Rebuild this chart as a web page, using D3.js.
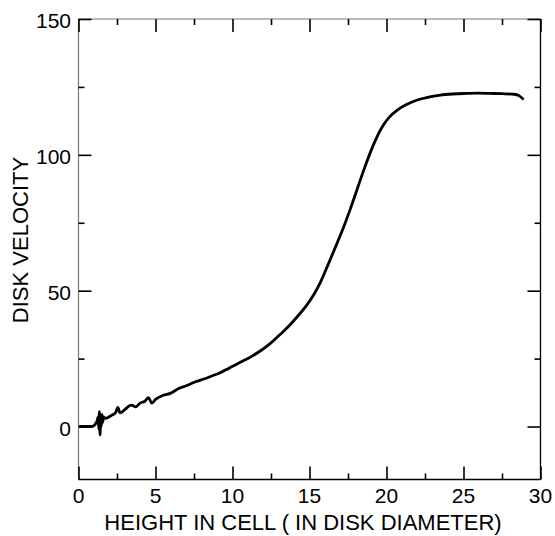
<!DOCTYPE html>
<html>
<head>
<meta charset="utf-8">
<script src="https://cdn.jsdelivr.net/npm/d3@7"></script>
<style>
  html, body { margin: 0; padding: 0; background: #fff; }
  text { font-family: "Liberation Sans", Arial, Helvetica, sans-serif; fill: #000; }
</style>
</head>
<body>
<svg id="chart" width="555" height="536"></svg>
<script>
// Data
const heights = [0.0, 0.87, 1.19, 1.28, 1.32, 1.36, 1.40, 1.44, 1.48, 1.52, 1.57, 1.62, 1.73,
  2.17, 2.4, 2.55, 2.7, 3.0, 3.3, 3.46, 3.7, 4.0, 4.3, 4.55, 4.76, 5.0, 5.5, 6.0, 6.5, 7.0,
  7.6, 8.2, 8.66, 9.2, 9.74, 10.3, 10.8, 11.3, 11.8, 12.5, 13.0, 13.6, 14.2, 14.8, 15.3,
  15.7, 16.2, 16.8, 17.2, 17.66, 18.0, 18.5, 18.96, 19.2, 19.5, 19.8, 20.2, 20.7, 21.3,
  22.0, 22.8, 23.5, 24.3, 25.2, 26.0, 26.75, 27.5, 28.3, 28.6, 28.9];
const velocities = [0.0, 0.0, 1.8, 3.5, -1.0, 5.5, -3.1, 4.0, 0.0, 4.5, 1.5, 3.5, 3.0,
  4.2, 5.0, 7.0, 5.0, 6.2, 7.6, 7.9, 7.2, 8.6, 9.3, 10.6, 8.6, 10.0, 11.5, 12.3, 14.0, 15.0,
  16.5, 17.6, 18.6, 19.8, 21.4, 23.0, 24.5, 26.0, 27.8, 30.8, 33.4, 36.6, 40.4, 44.5, 48.8,
  53.0, 59.5, 67.6, 73.2, 80.2, 85.8, 94.0, 101.0, 104.3, 108.0, 111.0, 114.0, 116.5, 118.5,
  120.2, 121.3, 122.0, 122.4, 122.6, 122.7, 122.6, 122.5, 122.3, 121.8, 120.4];
const xTickValues = [0, 5, 10, 15, 20, 25, 30];
const xMinorTicks = [2.5, 7.5, 12.5, 17.5, 22.5, 27.5];
const yTickValues = [0, 50, 100, 150];
const yMinorTicks = [25, 75, 125];
const xLabel = "HEIGHT IN CELL ( IN DISK DIAMETER)";
const yLabel = "DISK VELOCITY";

const svg = d3.select("#chart");
const L = 78.5, R = 540.5, T = 19, B = 479.5;
const x = d3.scaleLinear().domain([0, 30]).range([L, R]);
const y = d3.scaleLinear().domain([-19.5, 150]).range([B, T]);

// Curve
const pts = heights.map((h, i) => [h, velocities[i]]);
const line = d3.line().x(d => x(d[0])).y(d => y(d[1])).curve(d3.curveMonotoneX);
svg.append("path").datum(pts)
  .attr("d", line)
  .attr("fill", "none")
  .attr("stroke", "#000")
  .attr("stroke-width", 2.8)
  .attr("stroke-linejoin", "round");

// Frame
svg.append("line").attr("x1", L).attr("x2", R).attr("y1", T).attr("y2", T).attr("stroke", "#777").attr("stroke-width", 1.2);
svg.append("line").attr("x1", L).attr("x2", L).attr("y1", T).attr("y2", B).attr("stroke", "#777").attr("stroke-width", 1.2);
svg.append("line").attr("x1", R).attr("x2", R).attr("y1", T).attr("y2", B).attr("stroke", "#000").attr("stroke-width", 1.3);
svg.append("line").attr("x1", L).attr("x2", R).attr("y1", B).attr("y2", B).attr("stroke", "#000").attr("stroke-width", 1.3);

const MAJ = 13, MIN = 6;
// Axes with inward ticks
const axB = d3.axisTop(x).tickValues(xTickValues).tickSize(MAJ).tickFormat("");
const axT = d3.axisBottom(x).tickValues(xTickValues).tickSize(MAJ).tickFormat("");
const axL = d3.axisRight(y).tickValues(yTickValues).tickSize(MAJ).tickFormat("");
const axR = d3.axisLeft(y).tickValues(yTickValues).tickSize(MAJ).tickFormat("");
const axBm = d3.axisTop(x).tickValues(xMinorTicks).tickSize(MIN).tickFormat("");
const axTm = d3.axisBottom(x).tickValues(xMinorTicks).tickSize(MIN).tickFormat("");
const axLm = d3.axisRight(y).tickValues(yMinorTicks).tickSize(MIN).tickFormat("");
const axRm = d3.axisLeft(y).tickValues(yMinorTicks).tickSize(MIN).tickFormat("");
function place(ax, tr) {
  const g = svg.append("g").attr("transform", tr).call(ax);
  g.select(".domain").remove();
  g.selectAll(".tick line").attr("stroke", "#000").attr("stroke-width", 1.6);
}
place(axB, `translate(0,${B})`); place(axBm, `translate(0,${B})`);
place(axT, `translate(0,${T})`); place(axTm, `translate(0,${T})`);
place(axL, `translate(${L},0)`); place(axLm, `translate(${L},0)`);
place(axR, `translate(${R},0)`); place(axRm, `translate(${R},0)`);

// Tick labels
svg.append("g").selectAll("text").data(xTickValues).join("text")
  .attr("x", d => x(d)).attr("y", 503)
  .attr("text-anchor", "middle").attr("font-size", 21)
  .text(d => d);
svg.append("g").selectAll("text").data(yTickValues).join("text")
  .attr("x", 71).attr("y", d => y(d) + 9)
  .attr("text-anchor", "end").attr("font-size", 21)
  .text(d => d);

// Axis titles
svg.append("text").attr("x", 303).attr("y", 530)
  .attr("text-anchor", "middle").attr("font-size", 22).text(xLabel);
svg.append("text").attr("transform", "translate(28,240) rotate(-90)")
  .attr("text-anchor", "middle").attr("font-size", 22).text(yLabel);
</script>
</body>
</html>
